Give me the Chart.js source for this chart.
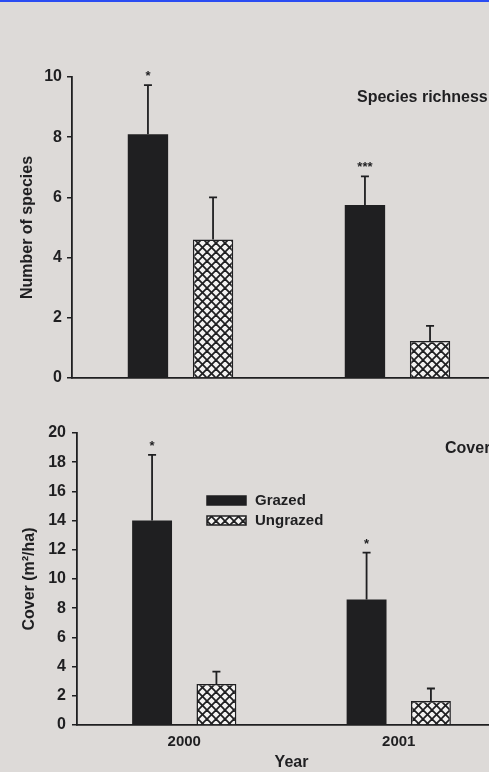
<!DOCTYPE html>
<html>
<head>
<meta charset="utf-8">
<script src="https://cdn.jsdelivr.net/npm/chart.js@4"></script>
<style>
  html, body { margin: 0; padding: 0; }
  body { width: 489px; height: 772px; overflow: hidden; background: #dddad8; position: relative; }
  .topline { position: absolute; left: 0; top: 0; width: 489px; height: 2px; background: #2a4cf2; z-index: 2; }
  .panel { position: absolute; left: 0; width: 510px; }
  #p1 { top: 0; height: 395px; }
  #p2 { top: 395px; height: 377px; }
</style>
</head>
<body>
<div class="topline"></div>
<div class="panel" id="p1"><canvas id="richness"></canvas></div>
<div class="panel" id="p2"><canvas id="cover"></canvas></div>
<script>
// data
const years = ['2000', '2001'];

const richnessGrazed = [8.1, 5.75];
const richnessGrazedSE = [1.63, 0.95];
const richnessUngrazed = [4.6, 1.23];
const richnessUngrazedSE = [1.4, 0.5];
const richnessStars = ['*', '***'];

const coverGrazed = [14.0, 8.6];
const coverGrazedSE = [4.5, 3.2];
const coverUngrazed = [2.8, 1.65];
const coverUngrazedSE = [0.85, 0.85];
const coverStars = ['*', '*'];

const ink = '#1f1f21';
const fontFamily = '"Liberation Sans", Arial, sans-serif';

// cross hatch for ungrazed bars
function hatch() {
  const c = document.createElement('canvas');
  c.width = 9; c.height = 9;
  const g = c.getContext('2d');
  g.fillStyle = '#f4f3f2';
  g.fillRect(0, 0, 9, 9);
  g.strokeStyle = ink;
  g.lineWidth = 1.8;
  for (let k = -1; k <= 1; k++) {
    g.beginPath(); g.moveTo(k * 9, 0); g.lineTo(k * 9 + 9, 9); g.stroke();
    g.beginPath(); g.moveTo(k * 9 + 9, 0); g.lineTo(k * 9, 9); g.stroke();
  }
  return g.createPattern(c, 'repeat');
}
const hatchFill = hatch();

// error bars (upper only) and significance stars
const errorBars = {
  id: 'errorBars',
  afterDatasetsDraw(chart) {
    const ctx = chart.ctx;
    const y = chart.scales.y;
    ctx.save();
    ctx.strokeStyle = ink;
    ctx.lineWidth = 1.8;
    chart.data.datasets.forEach((ds, i) => {
      const meta = chart.getDatasetMeta(i);
      meta.data.forEach((bar, j) => {
        const capY = y.getPixelForValue(ds.data[j] + ds.errors[j]);
        ctx.beginPath();
        ctx.moveTo(bar.x, bar.y);
        ctx.lineTo(bar.x, capY);
        ctx.moveTo(bar.x - 4, capY);
        ctx.lineTo(bar.x + 4, capY);
        ctx.stroke();
        if (ds.stars) {
          ctx.fillStyle = ink;
          ctx.font = 'bold 13px ' + fontFamily;
          ctx.textAlign = 'center';
          ctx.textBaseline = 'alphabetic';
          ctx.fillText(ds.stars[j], bar.x, capY - 5);
        }
      });
    });
    ctx.restore();
  }
};

// panel label and optional legend
const panelText = {
  id: 'panelText',
  afterDraw(chart, args, opts) {
    const ctx = chart.ctx;
    ctx.save();
    ctx.fillStyle = ink;
    ctx.font = 'bold 16px ' + fontFamily;
    ctx.textAlign = 'left';
    ctx.textBaseline = 'middle';
    ctx.fillText(opts.label, opts.labelX, opts.labelY);
    if (opts.legend) {
      const lx = chart.chartArea.left + 130;
      const ly = chart.chartArea.top + 63;
      chart.data.datasets.forEach((ds, i) => {
        const yy = ly + i * 20;
        ctx.fillStyle = ds.backgroundColor;
        ctx.fillRect(lx, yy, 39, 9);
        ctx.strokeStyle = ink;
        ctx.lineWidth = 1.5;
        ctx.strokeRect(lx, yy, 39, 9);
        ctx.fillStyle = ink;
        ctx.font = 'bold 15px ' + fontFamily;
        ctx.fillText(ds.label, lx + 48, yy + 5);
      });
    }
    ctx.restore();
  }
};

function makeChart(id, opts) {
  return new Chart(document.getElementById(id), {
    type: 'bar',
    data: {
      labels: years,
      datasets: [
        {
          label: 'Grazed', data: opts.grazed, errors: opts.grazedSE, stars: opts.stars,
          backgroundColor: ink, borderWidth: 0,
          categoryPercentage: 0.6, barPercentage: 0.62
        },
        {
          label: 'Ungrazed', data: opts.ungrazed, errors: opts.ungrazedSE,
          backgroundColor: hatchFill, borderColor: ink, borderWidth: 1.5,
          categoryPercentage: 0.6, barPercentage: 0.62
        }
      ]
    },
    options: {
      responsive: true,
      maintainAspectRatio: false,
      animation: false,
      layout: { padding: { top: opts.top, right: opts.right, bottom: 0, left: 0 } },
      plugins: {
        legend: { display: false },
        tooltip: { enabled: false },
        panelText: opts.panel
      },
      scales: {
        x: {
          grid: { display: false, drawTicks: false },
          border: { display: true, color: ink, width: 1.8 },
          ticks: {
            display: opts.xLabels,
            color: ink, padding: 8,
            font: { family: fontFamily, size: 15, weight: 'bold' }
          },
          title: {
            display: opts.xLabels, text: 'Year', color: ink,
            padding: { top: 0, bottom: 0 },
            font: { family: fontFamily, size: 16, weight: 'bold' }
          },
          afterFit(scale) { scale.height = opts.xHeight; }
        },
        y: {
          min: 0, max: opts.max,
          grid: { drawOnChartArea: false, tickLength: 5, color: ink, lineWidth: 1.5 },
          border: { display: true, color: ink, width: 1.8 },
          ticks: {
            stepSize: 2, color: ink, padding: opts.tickPad,
            font: { family: fontFamily, size: 16, weight: 'bold' }
          },
          title: {
            display: true, text: opts.yTitle, color: ink,
            padding: { top: opts.titlePad, bottom: 0 },
            font: { family: fontFamily, size: 16, weight: 'bold' }
          },
          afterFit(scale) { scale.width = opts.yWidth; }
        }
      }
    },
    plugins: [errorBars, panelText]
  });
}

makeChart('richness', {
  grazed: richnessGrazed, grazedSE: richnessGrazedSE, stars: richnessStars,
  ungrazed: richnessUngrazed, ungrazedSE: richnessUngrazedSE,
  max: 10, yTitle: 'Number of species',
  top: 77, right: 4, xHeight: 17, xLabels: false, yWidth: 72, tickPad: 5, titlePad: 18,
  panel: { label: 'Species richness', labelX: 357, labelY: 98, legend: false }
});

makeChart('cover', {
  grazed: coverGrazed, grazedSE: coverGrazedSE, stars: coverStars,
  ungrazed: coverUngrazed, ungrazedSE: coverUngrazedSE,
  max: 20, yTitle: 'Cover (m²/ha)',
  top: 38, right: 4, xHeight: 47, xLabels: true, yWidth: 77, tickPad: 6, titlePad: 20,
  panel: { label: 'Cover', labelX: 445, labelY: 54, legend: true }
});
</script>
</body>
</html>
